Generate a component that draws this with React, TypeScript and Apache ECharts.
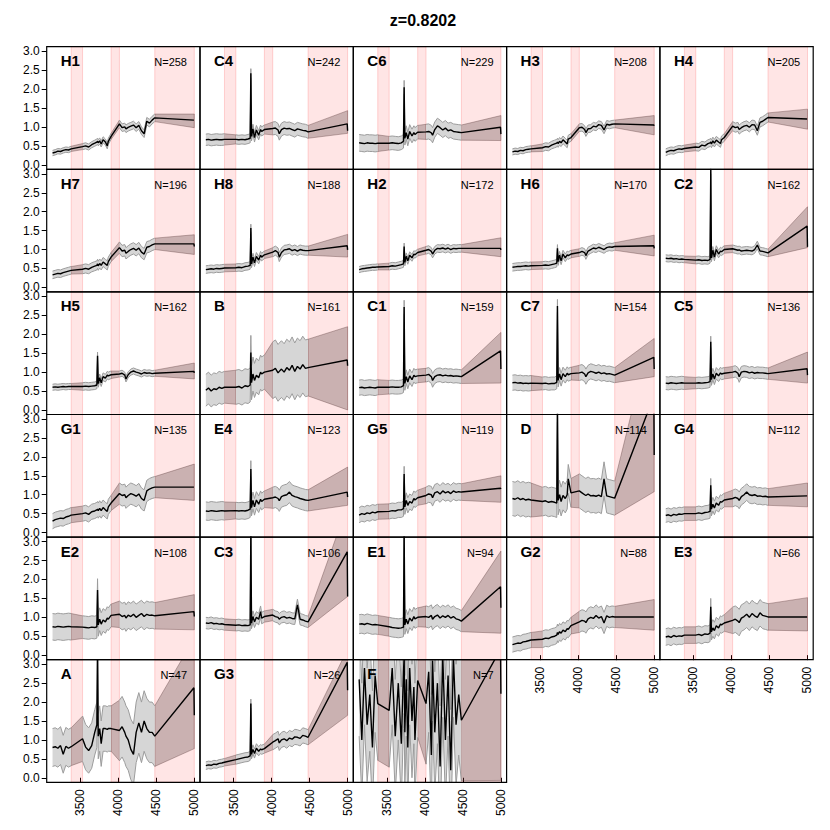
import React, { useEffect, useRef } from "react";
import * as echarts from "echarts";

// ---------------- data ----------------
const TITLE = "z=0.8202";
// rest-frame wavelength grid (Å): three observed segments + the two red-end points
const WL = [
  3135, 3170, 3205, 3240, 3275, 3310, 3345, 3380,
  3530, 3570, 3610, 3650, 3690, 3718, 3727, 3736, 3755, 3775, 3800, 3830, 3855, 3869, 3905,
  4015, 4050, 4085, 4101, 4130, 4165, 4200, 4235, 4270, 4305, 4340, 4375, 4410, 4445, 4480,
  4995, 5000,
];
const SEGMENTS = [[0, 7], [8, 22], [23, 37]];
const GAP_BANDS = [[3380, 3530], [3905, 4015], [4480, 5000]];
const X_TICKS = [3500, 4000, 4500, 5000];
const Y_TICKS = [0, 0.5, 1, 1.5, 2, 2.5, 3];

const H1_MED = [0.31,0.33,0.36,0.35,0.38,0.40,0.39,0.42, 0.48,0.50,0.47,0.53,0.57,0.60,0.62,0.58,0.63,0.55,0.66,0.60,0.50,0.62,0.75, 1.08,0.98,1.00,0.95,0.99,1.02,1.05,0.98,1.04,0.90,0.82,1.15,1.10,1.18,1.24, 1.18,1.17];
const H1_SIG = [0.07, 0.08, 0.1];
const H1_END = [0.98, 1.34];
const C4_MED = [0.66,0.67,0.65,0.66,0.67,0.66,0.66,0.67, 0.67,0.66,0.67,0.66,0.68,0.70,2.42,0.75,0.95,0.72,0.92,0.78,0.93,0.88,0.93, 0.96,0.97,0.92,0.82,0.93,0.97,0.95,0.96,0.93,0.90,0.95,0.93,0.91,0.90,0.87, 1.08,0.90];
const C4_SIG = [0.15, 0.12, 0.17];
const C4_END = [0.83, 1.43];
const C6_MED = [0.58,0.57,0.56,0.58,0.57,0.57,0.56,0.57, 0.57,0.58,0.57,0.56,0.58,0.62,2.05,0.70,0.85,0.68,0.88,0.76,0.85,0.80,0.86, 0.87,0.88,0.84,0.78,0.93,1.03,0.98,0.92,0.97,0.90,0.92,0.88,0.87,0.86,0.85, 0.99,0.81];
const C6_SIG = [0.22, 0.18, 0.2];
const C6_END = [0.64, 1.30];
const H3_MED = [0.34,0.36,0.35,0.38,0.37,0.40,0.41,0.42, 0.45,0.48,0.47,0.52,0.55,0.57,0.60,0.56,0.62,0.58,0.66,0.60,0.55,0.68,0.72, 0.98,0.99,0.93,0.85,0.95,0.96,1.02,1.00,1.06,1.04,0.92,1.07,1.05,1.07,1.08, 1.05,1.03];
const H3_SIG = [0.08, 0.1, 0.1];
const H3_END = [0.79, 1.30];
const H4_MED = [0.33,0.36,0.38,0.37,0.40,0.42,0.41,0.43, 0.47,0.46,0.52,0.50,0.56,0.58,0.60,0.55,0.63,0.57,0.65,0.60,0.56,0.66,0.72, 1.02,0.98,1.00,0.93,0.98,1.02,1.04,0.99,1.06,1.05,0.90,1.12,1.15,1.20,1.25, 1.21,1.20];
const H4_SIG = [0.09, 0.1, 0.12];
const H4_END = [0.94, 1.47];
const H7_MED = [0.33,0.35,0.37,0.36,0.39,0.41,0.43,0.45, 0.48,0.50,0.48,0.53,0.56,0.58,0.62,0.57,0.63,0.58,0.67,0.62,0.58,0.68,0.80, 1.05,0.96,0.98,0.90,0.95,1.00,1.03,0.98,1.04,0.93,0.88,1.06,1.08,1.12,1.15, 1.15,1.08];
const H7_SIG = [0.1, 0.12, 0.15];
const H7_END = [0.87, 1.39];
const H8_MED = [0.47,0.48,0.49,0.48,0.50,0.49,0.50,0.51, 0.52,0.53,0.52,0.55,0.56,0.58,1.57,0.62,0.80,0.65,0.82,0.72,0.85,0.80,0.86, 0.93,0.97,0.92,0.80,0.92,0.99,1.00,1.02,0.97,1.00,0.96,1.00,0.98,0.97,0.97, 1.10,0.99];
const H8_SIG = [0.1, 0.1, 0.12];
const H8_END = [0.80, 1.40];
const H2_MED = [0.47,0.49,0.50,0.51,0.52,0.53,0.53,0.54, 0.55,0.57,0.56,0.58,0.60,0.62,1.08,0.66,0.82,0.70,0.85,0.78,0.88,0.86,0.92, 0.98,1.00,0.95,0.88,0.98,1.03,1.02,1.04,1.01,1.04,1.00,1.03,1.02,1.03,1.03, 1.03,0.99];
const H2_SIG = [0.08, 0.09, 0.1];
const H2_END = [0.81, 1.31];
const H6_MED = [0.53,0.54,0.55,0.55,0.56,0.57,0.56,0.57, 0.58,0.59,0.58,0.60,0.62,0.64,1.03,0.68,0.85,0.70,0.88,0.78,0.86,0.84,0.88, 0.92,0.95,0.92,0.84,0.96,1.00,1.04,1.02,1.06,1.03,1.00,1.05,1.07,1.06,1.08, 1.10,1.03];
const H6_SIG = [0.1, 0.1, 0.1];
const H6_END = [0.83, 1.38];
const C2_MED = [0.77,0.76,0.77,0.75,0.76,0.74,0.75,0.74, 0.72,0.73,0.71,0.72,0.71,0.74,3.10,0.78,0.98,0.80,1.00,0.88,0.96,0.94,1.00, 1.02,1.00,0.98,0.99,0.96,0.97,0.98,0.97,0.96,1.00,1.12,0.96,0.95,0.93,0.91, 1.62,1.07];
const C2_SIG = [0.09, 0.1, 0.1];
const C2_END = [1.05, 2.13];
const H5_MED = [0.60,0.61,0.60,0.61,0.62,0.61,0.62,0.62, 0.62,0.63,0.62,0.63,0.64,0.66,1.43,0.70,0.85,0.72,0.88,0.84,0.92,0.90,0.93, 0.95,0.97,0.92,0.82,0.93,1.00,1.03,1.00,0.98,0.95,0.99,0.97,0.98,0.96,0.97, 1.02,0.98];
const H5_SIG = [0.08, 0.1, 0.08];
const H5_END = [0.82, 1.24];
const B_MED = [0.52,0.58,0.50,0.56,0.54,0.60,0.57,0.60, 0.60,0.62,0.58,0.64,0.62,0.66,1.52,0.72,0.95,0.78,0.92,0.85,1.00,0.95,1.00, 1.05,1.10,0.98,1.02,1.08,1.00,1.12,1.05,1.18,1.02,1.15,1.08,1.20,1.10,1.12, 1.32,1.17];
const B_SIG = [0.42, 0.45, 0.75];
const B_END = [0.0, 2.2];
const C1_MED = [0.59,0.60,0.58,0.59,0.60,0.59,0.58,0.60, 0.60,0.61,0.60,0.60,0.61,0.64,2.72,0.70,0.88,0.74,0.90,0.80,0.92,0.88,0.90, 0.92,0.94,0.88,0.78,0.88,0.92,0.93,0.90,0.92,0.90,0.91,0.89,0.90,0.89,0.88, 1.56,1.08];
const C1_SIG = [0.2, 0.18, 0.18];
const C1_END = [0.71, 2.05];
const C7_MED = [0.72,0.73,0.71,0.72,0.70,0.71,0.70,0.71, 0.70,0.71,0.69,0.70,0.70,0.73,2.75,0.78,0.95,0.80,0.96,0.88,0.97,0.93,0.96, 0.98,1.00,0.95,0.88,0.98,1.02,1.00,0.97,1.00,0.96,0.98,0.95,0.96,0.94,0.92, 1.39,1.08];
const C7_SIG = [0.2, 0.17, 0.2];
const C7_END = [0.88, 1.89];
const C5_MED = [0.71,0.70,0.72,0.71,0.70,0.71,0.72,0.71, 0.71,0.72,0.71,0.72,0.73,0.75,1.80,0.80,0.95,0.82,0.97,0.90,0.98,0.95,0.97, 1.00,1.02,0.97,0.88,1.00,1.02,1.01,0.98,1.00,0.97,0.99,0.98,0.98,0.97,0.96, 1.09,0.92];
const C5_SIG = [0.17, 0.15, 0.15];
const C5_END = [0.71, 1.53];
const G1_MED = [0.30,0.34,0.36,0.38,0.37,0.41,0.43,0.46, 0.50,0.52,0.48,0.55,0.57,0.60,0.62,0.58,0.64,0.58,0.66,0.60,0.56,0.68,0.78, 1.03,0.98,1.00,0.92,0.98,1.03,1.00,0.96,1.02,0.90,0.85,1.10,1.15,1.18,1.20, 1.20,1.19];
const G1_SIG = [0.2, 0.2, 0.28];
const G1_END = [0.85, 1.81];
const E4_MED = [0.57,0.56,0.58,0.57,0.56,0.57,0.58,0.57, 0.58,0.57,0.58,0.57,0.59,0.62,1.68,0.66,0.85,0.68,0.86,0.75,0.88,0.82,0.88, 0.92,0.94,0.90,0.84,0.95,0.98,1.00,1.07,0.98,0.95,0.93,0.90,0.88,0.86,0.85, 1.07,0.94];
const E4_SIG = [0.24, 0.22, 0.28];
const E4_END = [0.72, 1.73];
const G5_MED = [0.46,0.50,0.48,0.52,0.50,0.54,0.52,0.55, 0.56,0.58,0.57,0.60,0.60,0.63,1.55,0.68,0.85,0.72,0.82,0.78,0.90,0.86,0.92, 0.98,1.02,1.00,0.92,1.05,1.08,1.02,1.10,1.05,1.08,1.03,1.10,1.06,1.08,1.07, 1.17,1.15];
const G5_SIG = [0.2, 0.2, 0.22];
const G5_END = [0.80, 1.50];
const D_MED = [0.90,0.88,0.92,0.87,0.90,0.86,0.88,0.86, 0.82,0.84,0.80,0.82,0.80,0.78,3.30,0.85,1.00,0.82,0.98,0.90,1.00,1.42,1.05, 1.10,1.05,1.00,0.98,1.02,0.97,0.98,0.96,0.99,0.95,1.42,0.97,0.95,0.93,0.91, 3.60,2.05];
const D_SIG = [0.45, 0.38, 0.45];
const D_END = [1.08, 5.6];
const G4_MED = [0.45,0.47,0.44,0.48,0.46,0.49,0.48,0.50, 0.50,0.52,0.50,0.53,0.54,0.56,1.25,0.62,0.75,0.65,0.78,0.72,0.82,0.80,0.86, 0.90,0.93,0.90,0.85,0.95,1.00,1.07,1.00,0.98,1.00,0.96,0.97,0.95,0.96,0.94, 0.97,0.96];
const G4_SIG = [0.18, 0.18, 0.22];
const G4_END = [0.68, 1.31];
const E2_MED = [0.75,0.74,0.76,0.75,0.74,0.75,0.76,0.75, 0.74,0.73,0.72,0.74,0.73,0.75,1.72,0.80,0.95,0.82,0.93,0.88,0.98,0.95,1.05, 1.08,1.02,1.05,0.98,1.06,1.02,1.08,1.00,1.05,1.10,1.02,1.08,1.05,1.06,1.04, 1.15,1.02];
const E2_SIG = [0.35, 0.3, 0.35];
const E2_END = [0.67, 1.6];
const C3_MED = [0.85,0.84,0.86,0.83,0.84,0.82,0.83,0.81, 0.79,0.80,0.78,0.79,0.78,0.80,3.30,0.85,1.02,0.88,1.00,0.95,1.15,0.98,1.02, 1.06,1.02,1.00,0.95,1.00,1.02,0.98,1.00,0.97,0.96,1.33,0.95,0.93,0.90,0.88, 2.73,1.55];
const C3_SIG = [0.15, 0.15, 0.15];
const C3_END = [1.55, 3.97];
const E1_MED = [0.82,0.83,0.81,0.84,0.82,0.80,0.81,0.80, 0.75,0.73,0.72,0.71,0.72,0.74,3.30,0.80,0.95,0.82,0.98,0.90,1.02,0.96,1.00, 1.02,1.00,1.05,0.95,1.02,1.06,0.98,1.04,1.00,1.05,0.98,1.02,0.96,0.94,0.90, 1.81,1.25];
const E1_SIG = [0.25, 0.25, 0.28];
const E1_END = [0.58, 2.75];
const G2_MED = [0.28,0.30,0.32,0.31,0.35,0.36,0.38,0.40, 0.42,0.45,0.44,0.48,0.50,0.53,0.60,0.55,0.62,0.58,0.66,0.62,0.70,0.68,0.78, 0.88,0.92,0.90,0.86,0.96,1.00,0.97,1.05,0.98,1.02,0.85,1.04,1.00,1.02,1.01, 1.01,1.00];
const G2_SIG = [0.2, 0.22, 0.28];
const G2_END = [0.66, 1.47];
const E3_MED = [0.48,0.50,0.47,0.52,0.49,0.51,0.50,0.53, 0.53,0.55,0.52,0.56,0.55,0.58,1.28,0.62,0.72,0.65,0.78,0.72,0.82,0.80,0.85, 0.92,0.95,0.90,0.86,0.98,1.02,1.08,1.00,1.10,1.04,1.00,1.12,1.05,1.03,1.01, 1.01,1.00];
const E3_SIG = [0.22, 0.22, 0.35];
const E3_END = [0.64, 1.52];
const A_MED = [0.80,0.82,0.78,0.85,0.62,0.83,0.78,0.82, 1.03,0.81,0.72,0.85,1.20,1.40,3.30,1.10,1.30,0.90,1.30,1.30,1.28,1.30,1.30, 1.25,1.35,1.20,1.10,1.00,0.75,0.62,1.20,1.45,1.20,1.50,1.30,1.20,1.20,1.10, 2.38,1.65];
const A_SIG = [0.5, 0.6, 0.8];
const A_END = [0.77, 3.69];
const G3_MED = [0.32,0.34,0.33,0.36,0.35,0.38,0.39,0.41, 0.48,0.50,0.52,0.54,0.55,0.58,1.96,0.62,0.75,0.64,0.78,0.70,0.76,0.74,0.77, 0.94,0.98,1.03,0.92,1.00,1.03,0.98,1.05,1.02,1.08,1.07,1.04,1.12,1.10,1.07, 3.05,2.31];
const G3_SIG = [0.1, 0.12, 0.2];
const G3_END = [1.65, 3.4];
const F_MED = [2.6,1.0,2.9,1.4,2.2,0.8,2.7,1.96, 1.78,2.9,1.1,2.5,0.9,2.8,3.2,1.2,2.6,0.8,2.9,1.5,2.4,1.0,2.57, 1.96,2.8,0.6,3.1,1.2,2.5,0.3,3.2,1.0,2.7,0.2,3.2,1.4,2.2,1.52, 3.4,2.22];
const F_SIG = [1.5, 1.5, 1.6];
const F_END = [-0.07, 4.5];

const PANEL_NAMES = ["H1","C4","C6","H3","H4","H7","H8","H2","H6","C2","H5","B","C1","C7","C5","G1","E4","G5","D","G4","E2","C3","E1","G2","E3","A","G3","F"];
const PANEL_N = [258,242,229,208,205,196,188,172,170,162,162,161,159,154,136,135,123,119,114,112,108,106,94,88,66,47,26,7];
const PANEL_MED = [H1_MED,C4_MED,C6_MED,H3_MED,H4_MED,H7_MED,H8_MED,H2_MED,H6_MED,C2_MED,H5_MED,B_MED,C1_MED,C7_MED,C5_MED,G1_MED,E4_MED,G5_MED,D_MED,G4_MED,E2_MED,C3_MED,E1_MED,G2_MED,E3_MED,A_MED,G3_MED,F_MED];
const PANEL_SIG = [H1_SIG,C4_SIG,C6_SIG,H3_SIG,H4_SIG,H7_SIG,H8_SIG,H2_SIG,H6_SIG,C2_SIG,H5_SIG,B_SIG,C1_SIG,C7_SIG,C5_SIG,G1_SIG,E4_SIG,G5_SIG,D_SIG,G4_SIG,E2_SIG,C3_SIG,E1_SIG,G2_SIG,E3_SIG,A_SIG,G3_SIG,F_SIG];
const PANEL_END = [H1_END,C4_END,C6_END,H3_END,H4_END,H7_END,H8_END,H2_END,H6_END,C2_END,H5_END,B_END,C1_END,C7_END,C5_END,G1_END,E4_END,G5_END,D_END,G4_END,E2_END,C3_END,E1_END,G2_END,E3_END,A_END,G3_END,F_END];

// ---------------- layout / style ----------------
const X_MIN = 3058, X_MAX = 5075, Y_MIN = -0.12, Y_MAX = 3.12;
const NCOL = 5;
const LEFT0 = 46.7, TOP0 = 46.7, PW = 153.3, PH = 122.6;
const FONT = '"Liberation Sans", Arial, Helvetica, sans-serif';
const PINK = "rgba(255,0,0,0.1)";
const PINK_EDGE = "rgba(255,0,0,0.16)";
const BROWN = "rgba(80,55,55,0.3)";
const BROWN_EDGE = "rgba(80,50,50,0.35)";
const GREY = "#d6d6d6";
const GREY_EDGE = "#9c9c9c";

type Pt = number[];
function clipHalf(pts: Pt[], inside: (p: Pt) => boolean, inter: (a: Pt, b: Pt) => Pt): Pt[] {
  const out: Pt[] = [];
  for (let i = 0; i < pts.length; i++) {
    const cur = pts[i];
    const prev = pts[(i + pts.length - 1) % pts.length];
    const ci = inside(cur), pi = inside(prev);
    if (ci) {
      if (!pi) out.push(inter(prev, cur));
      out.push(cur);
    } else if (pi) out.push(inter(prev, cur));
  }
  return out;
}
function clipRect(pts: Pt[], x0: number, y0: number, x1: number, y1: number): Pt[] {
  const ix = (a: Pt, b: Pt, x: number) => [x, a[1] + ((b[1] - a[1]) * (x - a[0])) / (b[0] - a[0])];
  const iy = (a: Pt, b: Pt, y: number) => [a[0] + ((b[0] - a[0]) * (y - a[1])) / (b[1] - a[1]), y];
  let r = pts;
  r = clipHalf(r, (p) => p[0] >= x0, (a, b) => ix(a, b, x0));
  if (r.length < 3) return r;
  r = clipHalf(r, (p) => p[0] <= x1, (a, b) => ix(a, b, x1));
  if (r.length < 3) return r;
  r = clipHalf(r, (p) => p[1] >= y0, (a, b) => iy(a, b, y0));
  if (r.length < 3) return r;
  r = clipHalf(r, (p) => p[1] <= y1, (a, b) => iy(a, b, y1));
  return r;
}

function buildOption() {
  const grids: any[] = [], xAxes: any[] = [], yAxes: any[] = [], series: any[] = [], graphic: any[] = [];
  const n = PANEL_NAMES.length;
  const lastRow = Math.floor((n - 1) / NCOL);
  graphic.push({
    type: "text", x: 423, y: 20, z: 100,
    style: { text: TITLE, font: `bold 16px ${FONT}`, fill: "#000", align: "center", verticalAlign: "middle" },
  });
  for (let i = 0; i < n; i++) {
    const row = Math.floor(i / NCOL), col = i % NCOL;
    const left = LEFT0 + col * PW, top = TOP0 + row * PH;
    const showX = row === lastRow || i + NCOL >= n;
    const showY = col === 0;
    grids.push({ left, top, width: PW, height: PH, show: true, borderColor: "#000", borderWidth: 1.2, backgroundColor: "transparent", z: 5 });
    xAxes.push({
      type: "value", gridIndex: i, min: X_MIN, max: X_MAX,
      axisLine: { show: false }, splitLine: { show: false },
      axisTick: { show: showX, customValues: X_TICKS, length: 5, lineStyle: { color: "#000", width: 1 } },
      axisLabel: { show: showX, customValues: X_TICKS, rotate: 90, margin: 7, fontSize: 12, color: "#000", fontFamily: FONT, formatter: (v: number) => String(v) },
    });
    yAxes.push({
      type: "value", gridIndex: i, min: Y_MIN, max: Y_MAX,
      axisLine: { show: false }, splitLine: { show: false },
      axisTick: { show: showY, customValues: Y_TICKS, length: 5, lineStyle: { color: "#000", width: 1 } },
      axisLabel: { show: showY, customValues: Y_TICKS, margin: 7, fontSize: 12, color: "#000", fontFamily: FONT, formatter: (v: number) => v.toFixed(1) },
    });
    const med = PANEL_MED[i], sig = PANEL_SIG[i], end = PANEL_END[i];
    series.push({
      type: "custom", xAxisIndex: i, yAxisIndex: i, silent: true, z: 1,
      data: [[4000, 1]],
      renderItem: (_p: any, api: any) => {
        const c = (x: number, y: number): Pt => api.coord([x, y]);
        const [x0, y0] = c(X_MIN, Y_MAX);
        const [x1, y1] = c(X_MAX, Y_MIN);
        const children: any[] = [];
        const poly = (pts: Pt[], style: any) => {
          const cp = clipRect(pts, x0, y0, x1, y1);
          if (cp.length > 2) children.push({ type: "polygon", shape: { points: cp }, style });
        };
        GAP_BANDS.forEach(([a, b]) => {
          const pa = c(a, Y_MAX), pb = c(b, Y_MIN);
          children.push({ type: "rect", shape: { x: pa[0], y: pa[1], width: pb[0] - pa[0], height: pb[1] - pa[1] }, style: { fill: PINK, stroke: PINK_EDGE, lineWidth: 1 } });
        });
        for (let g = 0; g < 3; g++) {
          const iA = SEGMENTS[g][1];
          let xB: number, hiB: number, loB: number;
          if (g < 2) {
            const iB = SEGMENTS[g + 1][0];
            xB = WL[iB]; hiB = med[iB] + sig[g + 1]; loB = med[iB] - sig[g + 1];
          } else {
            xB = WL[WL.length - 1]; hiB = end[1]; loB = end[0];
          }
          poly([c(WL[iA], med[iA] + sig[g]), c(xB, hiB), c(xB, loB), c(WL[iA], med[iA] - sig[g])], { fill: BROWN, stroke: BROWN_EDGE, lineWidth: 1 });
        }
        SEGMENTS.forEach(([a, b], g) => {
          const up: Pt[] = [], lo: Pt[] = [];
          for (let k = a; k <= b; k++) {
            up.push(c(WL[k], med[k] + sig[g]));
            lo.push(c(WL[k], med[k] - sig[g]));
          }
          poly(up.concat(lo.reverse()), { fill: GREY });
        });
        return { type: "group", children };
      },
    });
    for (const sgn of [1, -1]) {
      const d: any[] = [];
      SEGMENTS.forEach(([a, b], g) => {
        if (g > 0) d.push([WL[a] - 1, "-"]);
        for (let k = a; k <= b; k++) d.push([WL[k], med[k] + sgn * sig[g]]);
      });
      series.push({
        type: "line", xAxisIndex: i, yAxisIndex: i, data: d, symbol: "none", silent: true, z: 2,
        connectNulls: false, lineStyle: { color: GREY_EDGE, width: 1 },
      });
    }
    series.push({
      type: "line", xAxisIndex: i, yAxisIndex: i, symbol: "none", silent: true, z: 3,
      data: WL.map((x, k) => [x, med[k]]),
      lineStyle: { color: "#000", width: 1.4 },
    });
    graphic.push({
      type: "text", x: left + 14, y: top + 14, z: 100,
      style: { text: PANEL_NAMES[i], font: `bold 15px ${FONT}`, fill: "#000", align: "left", verticalAlign: "middle" },
    });
    graphic.push({
      type: "text", x: left + PW - 13, y: top + 15.5, z: 100,
      style: { text: `N=${PANEL_N[i]}`, font: `11px ${FONT}`, fill: "#000", align: "right", verticalAlign: "middle" },
    });
  }
  return { animation: false, backgroundColor: "#fff", grid: grids, xAxis: xAxes, yAxis: yAxes, series, graphic };
}

export default function App() {
  const ref = useRef<HTMLDivElement>(null);
  useEffect(() => {
    if (!ref.current) return;
    const chart = echarts.init(ref.current, undefined, { renderer: "svg" });
    chart.setOption(buildOption() as any);
    return () => chart.dispose();
  }, []);
  return <div ref={ref} style={{ position: "fixed", left: 0, top: 0, width: 830, height: 830, background: "#fff" }} />;
}
